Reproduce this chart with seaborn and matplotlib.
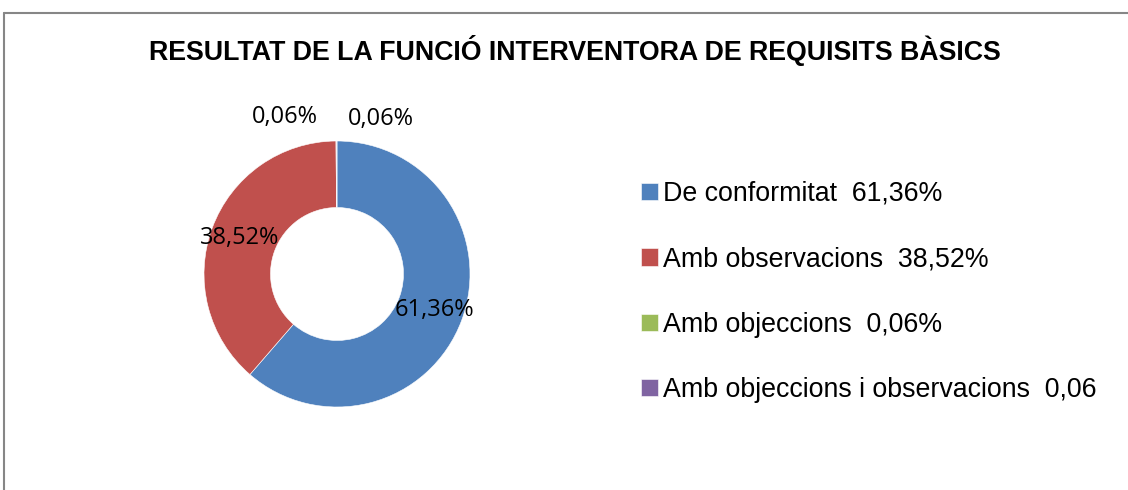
import numpy as np
import matplotlib
matplotlib.use("Agg")
import matplotlib.pyplot as plt
from matplotlib.lines import Line2D
import seaborn as sns

categories = ["De conformitat", "Amb observacions", "Amb objeccions", "Amb objeccions i observacions"]
values = [61.36, 38.52, 0.06, 0.06]
pct_labels = ["61,36%", "38,52%", "0,06%", "0,06%"]
legend_labels = ["De conformitat  61,36%", "Amb observacions  38,52%",
                 "Amb objeccions  0,06%", "Amb objeccions i observacions  0,06"]
colors = ["#4F81BD", "#C0504D", "#9BBB59", "#8064A2"]
title = "RESULTAT DE LA FUNCIÓ INTERVENTORA DE REQUISITS BÀSICS"

sns.set_theme(style="white")
plt.rcParams['font.family'] = ['Liberation Sans', 'DejaVu Sans']
plt.rcParams['text.color'] = 'black'

W, H = 1128, 490
fig = plt.figure(figsize=(W / 100, H / 100), dpi=100)
fig.patch.set_facecolor("white")

# frame (top and left edges visible)
fig.add_artist(Line2D([4 / W, 4 / W], [0, 1 - 13 / H], transform=fig.transFigure,
                      color="#868686", lw=1.5))
fig.add_artist(Line2D([4 / W, 1], [1 - 13 / H, 1 - 13 / H], transform=fig.transFigure,
                      color="#868686", lw=1.5))

fig.text(575 / W, 1 - 50 / H, title, ha="center", va="center", color="black",
         fontsize=19.3, fontweight="bold", family=["Liberation Sans", "DejaVu Sans"])

cx, cy, R = 337, 274, 133
half = 150
ax = fig.add_axes([(cx - half) / W, (H - cy - half) / H, 2 * half / W, 2 * half / H])

wedges, _ = ax.pie(values, colors=colors, startangle=90, counterclock=False,
                   radius=1.0, wedgeprops=dict(width=0.5, edgecolor="white", linewidth=0.4))
lim = half / R
ax.set_xlim(-lim, lim)
ax.set_ylim(-lim, lim)
ax.set_aspect("equal")
ax.axis("off")

for i, w in enumerate(wedges):
    mid = np.deg2rad((w.theta1 + w.theta2) / 2)
    if values[i] < 1:
        off = 18 if i == 2 else -16
        ang = mid + np.deg2rad(off)
        r = 1.24 if i == 2 else 1.21
    else:
        ang = mid
        r = 0.78
    ax.text(r * np.cos(ang), r * np.sin(ang), pct_labels[i], ha="center", va="center",
            fontsize=17, family=["Open Sans", "DejaVu Sans"], color="black")

leg = fig.legend(wedges, legend_labels, loc="upper left",
                 bbox_to_anchor=(641 / W, 1 - 181 / H), frameon=False,
                 fontsize=19.3, handlelength=0.62, handleheight=0.62,
                 handletextpad=0.2, labelspacing=1.47, borderpad=0, borderaxespad=0)
for t in leg.get_texts():
    t.set_color("black")

fig.savefig("out.png", dpi=100, facecolor="white")
